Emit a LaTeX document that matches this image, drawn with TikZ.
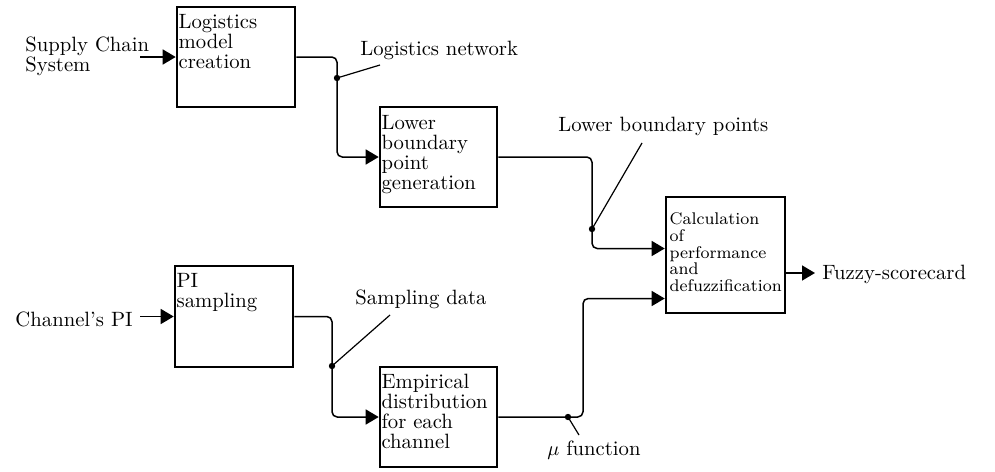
\documentclass[tikz,border=0pt]{standalone}
\usetikzlibrary{arrows.meta}
\newcommand{\bigfont}{\fontsize{10.35}{10}\selectfont}
\newcommand{\smallfont}{\fontsize{8.45}{8.35}\selectfont}
\newcommand{\boxcontent}[4]{\parbox[c][#2][t]{#1}{\raggedright\rule{0pt}{#3}#4}}
\begin{document}
\begin{tikzpicture}[x=0.5pt,y=-0.5pt,
  box/.style={draw, line width=1.3pt, inner sep=0.8pt, font=\bigfont},
  conn/.style={line width=0.75pt, rounded corners=2.6pt},
  arr/.style={conn, -{Triangle[length=6.5pt,width=7.5pt]}},
  lbl/.style={font=\bigfont, inner sep=0pt},
  leader/.style={line width=0.6pt},
  dot/.style={circle, fill, inner sep=0pt, minimum size=3.2pt}]
\useasboundingbox (0,0) rectangle (995,471);

% boxes
\node[box] (b1) at (236,57) {\boxcontent{57.4pt}{48.4pt}{9.7pt}{Logistics\\model\\creation}};
\node[box] (b2) at (438.5,157) {\boxcontent{56.9pt}{48.4pt}{10.2pt}{Lower\\boundary\\point\\generation}};
\node[box, inner xsep=1.8pt, font=\smallfont] (b3) at (725.5,255) {\boxcontent{55.9pt}{56.4pt}{13.1pt}{Calculation\\of\\performance\\and\\defuzzification}};
\node[box] (b4) at (234,316.5) {\boxcontent{57.4pt}{48.9pt}{9.7pt}{PI\\sampling}};
\node[box] (b5) at (438.5,417) {\boxcontent{56.9pt}{48.4pt}{9.9pt}{Empirical\\distribution\\for each\\channel}};

% inputs
\node[lbl, align=left, anchor=west] (tin1) at (25,56) {Supply Chain\\System};
\coordinate (in1) at (140,57);
\draw[arr] (in1) -- (b1.west);
\coordinate (in2) at (140,316.5);
\node[lbl, anchor=base east] (tin2) at (133,326) {Channel's PI};
\draw[arr] (in2) -- (b4.west);

% junctions
\coordinate (j1) at (337,78);
\coordinate (j2) at (592,229);
\coordinate (j3) at (332,366);
\coordinate (j4) at (568,417);
\coordinate (k4) at (583,417);
\coordinate (b3a) at (b3.west |- 0,248.5);
\coordinate (b3b) at (b3.west |- 0,298.5);
\coordinate (out) at (815,273);
\coordinate (b3o) at (b3.east |- out);

% connectors
\draw[arr] (b1.east) -| (j1) |- (b2.west);
\draw[arr] (b2.east) -| (j2) |- (b3a);
\draw[arr] (b4.east) -| (j3) |- (b5.west);
\draw[arr] (b5.east) -- (j4) -- (k4) |- (b3b);
\draw[arr] (b3o) -- (out);

\node[dot] (d1) at (j1) {};
\node[dot] (d2) at (j2) {};
\node[dot] (d3) at (j3) {};
\node[dot] (d4) at (j4) {};

% labels
\node[lbl, anchor=base west] (l1) at (360,55) {Logistics network};
\coordinate (e1) at (380,65);
\draw[leader] (j1) -- (e1);
\node[lbl, anchor=base west] (l2) at (558,131.5) {Lower boundary points};
\coordinate (e2) at (642,143);
\draw[leader] (j2) -- (e2);
\node[lbl, anchor=base west] (l3) at (355,304) {Sampling data};
\coordinate (e3) at (390,315);
\draw[leader] (j3) -- (e3);
\node[lbl, anchor=base west] (l4) at (547,455) {$\mu$ function};
\coordinate (e4) at (579,435);
\draw[leader] (j4) -- (e4);
\node[lbl, anchor=base west] (l5) at (822,279) {Fuzzy-scorecard};
\end{tikzpicture}
\end{document}
